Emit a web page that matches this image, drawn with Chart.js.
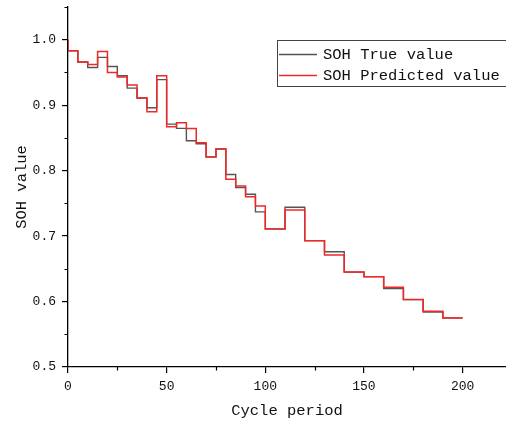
<!DOCTYPE html>
<html>
<head>
<meta charset="utf-8">
<script src="https://cdn.jsdelivr.net/npm/chart.js@4/dist/chart.umd.min.js"></script>
<style>
  html, body { margin: 0; padding: 0; background: #fff; }
  canvas { display: block; }
</style>
</head>
<body>
<canvas id="soh" width="506" height="426"></canvas>
<script>
// Cycle numbers at the end of each step (each value holds over the interval ending here)
const cycles = [0, 5, 10, 15, 20, 25, 30, 35, 40, 45, 50, 55, 60, 65, 70, 75, 80, 85, 90, 95, 100,
                110, 120, 130, 140, 150, 160, 170, 180, 190, 200];

const sohTrue = [1.000, 0.983, 0.966, 0.9575, 0.973, 0.959, 0.945, 0.926, 0.911, 0.896, 0.939,
                 0.871, 0.8645, 0.8456, 0.841, 0.821, 0.833, 0.794, 0.774, 0.764, 0.737,
                 0.711, 0.744, 0.693, 0.676, 0.645, 0.638, 0.620, 0.603, 0.584, 0.575];

const sohPred = [1.000, 0.983, 0.966, 0.962, 0.982, 0.950, 0.943, 0.931, 0.911, 0.890, 0.945,
                 0.867, 0.873, 0.8645, 0.8425, 0.821, 0.833, 0.787, 0.7765, 0.760, 0.746,
                 0.711, 0.740, 0.693, 0.671, 0.645, 0.638, 0.622, 0.603, 0.585, 0.575];

const seriesLabels = ['SOH True value', 'SOH Predicted value'];
const seriesColors = ['rgb(85,85,85)', 'rgb(240,40,40)'];

const xTicks = [0, 50, 100, 150, 200];
const xMinorTicks = [25, 75, 125, 175];
const yTicks = [0.5, 0.6, 0.7, 0.8, 0.9, 1.0];
const yMinorTicks = [0.55, 0.65, 0.75, 0.85, 0.95, 1.05];

const MONO = '"Liberation Mono", "DejaVu Sans Mono", monospace';

// Short minor tick marks on the outside of both axes
const minorTickPlugin = {
  id: 'minorTicks',
  afterDraw(chart) {
    const { ctx, scales: { x, y } } = chart;
    ctx.save();
    ctx.strokeStyle = '#000';
    ctx.lineWidth = 1.2;
    ctx.beginPath();
    xMinorTicks.forEach(v => {
      const px = Math.round(x.getPixelForValue(v)) + 0.5;
      ctx.moveTo(px, x.top);
      ctx.lineTo(px, x.top + 3.5);
    });
    yMinorTicks.forEach(v => {
      const py = Math.round(y.getPixelForValue(v)) + 0.5;
      ctx.moveTo(y.right, py);
      ctx.lineTo(y.right - 3.5, py);
    });
    ctx.stroke();
    ctx.restore();
  }
};

// Boxed legend in the upper right of the plot
const boxedLegendPlugin = {
  id: 'boxedLegend',
  afterDraw(chart) {
    const ctx = chart.ctx;
    const left = 277.5, top = 40.5, width = 240, height = 46;
    ctx.save();
    ctx.fillStyle = '#fff';
    ctx.fillRect(left, top, width, height);
    ctx.strokeStyle = '#444';
    ctx.lineWidth = 1;
    ctx.strokeRect(left, top, width, height);
    ctx.font = '15.5px ' + MONO;
    ctx.textBaseline = 'middle';
    ctx.textAlign = 'left';
    seriesLabels.forEach((label, i) => {
      const cy = 54 + i * 21;
      ctx.beginPath();
      ctx.strokeStyle = seriesColors[i];
      ctx.lineWidth = 1.4;
      ctx.moveTo(279, cy + 0.5);
      ctx.lineTo(317, cy + 0.5);
      ctx.stroke();
      ctx.fillStyle = '#111';
      ctx.fillText(label, 323, cy + 1);
    });
    ctx.restore();
  }
};

new Chart(document.getElementById('soh'), {
  type: 'line',
  data: {
    datasets: [
      {
        label: seriesLabels[0],
        data: cycles.map((c, i) => ({ x: c, y: sohTrue[i] })),
        borderColor: seriesColors[0],
        borderWidth: 1.4,
        stepped: 'after',
        pointRadius: 0,
        fill: false,
        order: 1
      },
      {
        label: seriesLabels[1],
        data: cycles.map((c, i) => ({ x: c, y: sohPred[i] })),
        borderColor: seriesColors[1],
        borderWidth: 1.5,
        stepped: 'after',
        pointRadius: 0,
        fill: false,
        order: 0
      }
    ]
  },
  options: {
    responsive: false,
    animation: false,
    devicePixelRatio: 1,
    layout: { padding: { top: 7, right: 0, left: 0, bottom: 0 } },
    plugins: {
      legend: { display: false },
      tooltip: { enabled: false }
    },
    scales: {
      x: {
        type: 'linear',
        min: 0,
        max: 222,
        afterBuildTicks: s => { s.ticks = xTicks.map(v => ({ value: v })); },
        afterFit: s => { s.height = 59; s.paddingLeft = 0; s.paddingRight = 0; },
        ticks: {
          color: '#111',
          font: { family: MONO, size: 13 },
          padding: 6,
          maxRotation: 0,
          callback: v => String(v)
        },
        grid: {
          drawOnChartArea: false,
          drawTicks: true,
          tickLength: 6,
          color: '#000',
          lineWidth: 1.2
        },
        border: { display: true, color: '#000', width: 1.3 },
        title: {
          display: true,
          text: 'Cycle period',
          color: '#111',
          font: { family: MONO, size: 15.5 },
          padding: { top: 0, bottom: 6 }
        }
      },
      y: {
        type: 'linear',
        min: 0.5,
        max: 1.05,
        afterBuildTicks: s => { s.ticks = yTicks.map(v => ({ value: v })); },
        afterFit: s => { s.width = 68; s.paddingTop = 0; s.paddingBottom = 0; },
        ticks: {
          color: '#111',
          font: { family: MONO, size: 13 },
          padding: 6,
          callback: v => Number(v).toFixed(1)
        },
        grid: {
          drawOnChartArea: false,
          drawTicks: true,
          tickLength: 6,
          color: '#000',
          lineWidth: 1.2
        },
        border: { display: true, color: '#000', width: 1.3 },
        title: {
          display: true,
          text: 'SOH value',
          color: '#111',
          font: { family: MONO, size: 15.5 },
          padding: { top: 13, bottom: 0 }
        }
      }
    }
  },
  plugins: [minorTickPlugin, boxedLegendPlugin]
});
</script>
</body>
</html>
